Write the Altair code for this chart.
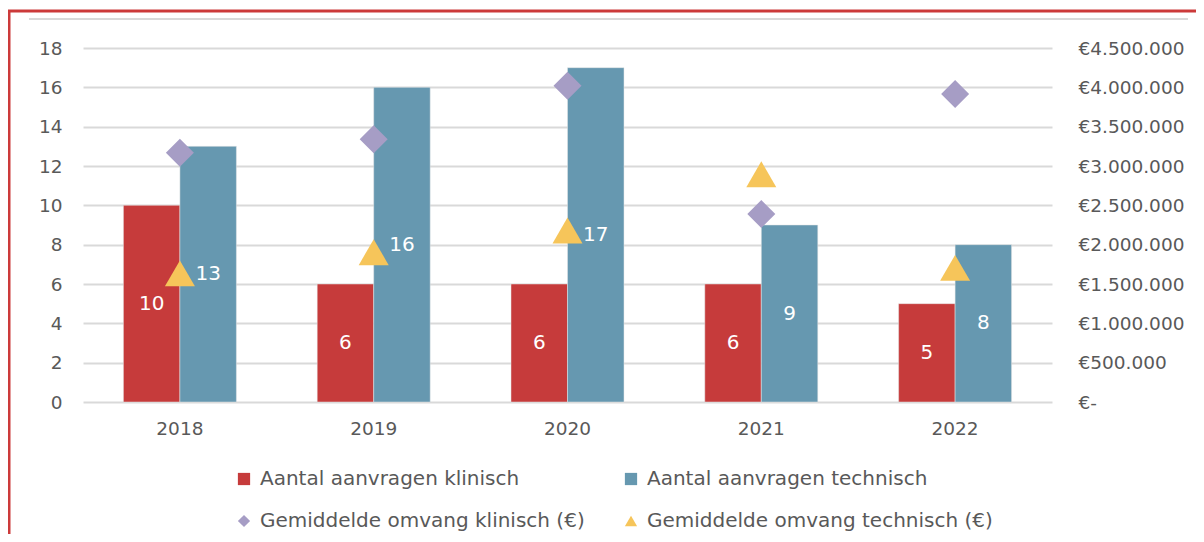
import altair as alt
import pandas as pd

# ---- data ----
years = ["2018", "2019", "2020", "2021", "2022"]
aantal_klinisch = [10, 6, 6, 6, 5]
aantal_technisch = [13, 16, 17, 9, 8]
omvang_klinisch = [3170000, 3340000, 4020000, 2390000, 3915000]
omvang_technisch = [1635000, 1905000, 2180000, 2895000, 1705000]

s_ak = "Aantal aanvragen klinisch"
s_at = "Aantal aanvragen technisch"
s_ok = "Gemiddelde omvang klinisch (€)"
s_ot = "Gemiddelde omvang technisch (€)"
series_order = [s_ak, s_at, s_ok, s_ot]
series_colors = ["#C63B3B", "#6698B0", "#A69DC5", "#F6C55A"]
series_shapes = ["square", "square", "diamond", "triangle-up"]

bars_df = pd.DataFrame(
    [{"jaar": y, "reeks": s_ak, "aantal": v} for y, v in zip(years, aantal_klinisch)]
    + [{"jaar": y, "reeks": s_at, "aantal": v} for y, v in zip(years, aantal_technisch)]
)
points_df = pd.DataFrame(
    [{"jaar": y, "reeks": s_ok, "omvang": v} for y, v in zip(years, omvang_klinisch)]
    + [{"jaar": y, "reeks": s_ot, "omvang": v} for y, v in zip(years, omvang_technisch)]
)

FONT = "DejaVu Sans"
TXT = "#595959"
GRID = "#D9D9D9"

x_enc = alt.X(
    "jaar:N",
    sort=years,
    scale=alt.Scale(paddingInner=0.417, paddingOuter=0.2085),
    axis=alt.Axis(
        title=None, labelAngle=0, ticks=False, domain=False, grid=False,
        labelFont=FONT, labelFontSize=18.5, labelColor=TXT, labelPadding=17,
    ),
)
xoff_enc = alt.XOffset("reeks:N", sort=[s_ak, s_at], scale=alt.Scale(paddingInner=0, paddingOuter=0))

legend_def = alt.Legend(
    title=None, orient="none", legendX=151, legendY=421, columns=2,
    direction="horizontal",
    columnPadding=36, rowPadding=22, padding=0,
    labelFont=FONT, labelFontSize=20, labelColor=TXT, labelOffset=6,
    symbolSize=150, symbolStrokeWidth=0, labelLimit=0,
)
color_enc = alt.Color(
    "reeks:N",
    scale=alt.Scale(domain=series_order, range=series_colors),
    legend=legend_def,
)
shape_enc = alt.Shape(
    "reeks:N",
    scale=alt.Scale(domain=series_order, range=series_shapes),
    legend=legend_def,
)

left_axis = alt.Axis(
    title=None, values=list(range(0, 19, 2)), ticks=False, domain=False,
    grid=True, gridColor=GRID, gridWidth=2,
    labelFont=FONT, labelFontSize=18.5, labelColor=TXT, labelPadding=21,
)
left_scale = alt.Scale(domain=[0, 18], nice=False)

bars = alt.Chart(bars_df).mark_bar(stroke="#E6E6E6", strokeWidth=0.5).encode(
    x=x_enc, xOffset=xoff_enc,
    y=alt.Y("aantal:Q", scale=left_scale, axis=left_axis),
    color=color_enc,
)

labels = alt.Chart(bars_df).transform_calculate(
    midden="datum.aantal / 2"
).mark_text(font=FONT, fontSize=20, color="white", baseline="middle").encode(
    x=alt.X("jaar:N", sort=years),
    xOffset=alt.XOffset("reeks:N", sort=[s_ak, s_at]),
    y=alt.Y("midden:Q", scale=left_scale, axis=left_axis),
    text=alt.Text("aantal:Q"),
)

deco = pd.DataFrame({"k": [0]})
red_border = alt.Chart(deco).mark_rect(
    fillOpacity=0, stroke="#CC3A3A", strokeWidth=3
).encode(
    x=alt.value(-74), x2=alt.value(1300), y=alt.value(-37), y2=alt.value(700)
)
top_line = alt.Chart(deco).mark_rule(color=GRID, strokeWidth=2).encode(
    x=alt.value(-54), x2=alt.value(1105), y=alt.value(-29)
)

left_layer = alt.layer(red_border, top_line, bars, labels)

points = alt.Chart(points_df).mark_point(filled=True, opacity=1, strokeWidth=0).encode(
    x=alt.X("jaar:N", sort=years),
    y=alt.Y(
        "omvang:Q",
        scale=alt.Scale(domain=[0, 4500000], nice=False),
        axis=alt.Axis(
            title=None, orient="right", values=list(range(0, 4500001, 500000)),
            ticks=False, domain=False, grid=False,
            labelFont=FONT, labelFontSize=18.5, labelColor=TXT, labelPadding=26,
            labelExpr="datum.value == 0 ? '€-' : '€' + replace(replace(format(datum.value, ',.0f'), ',', '.'), ',', '.')",
        ),
    ),
    color=color_enc,
    shape=shape_enc,
    size=alt.condition("datum.reeks == '" + s_ok + "'", alt.value(784), alt.value(900)),
)

chart = alt.layer(left_layer, points).resolve_scale(y="independent").properties(
    width=969,
    height=354,
    padding={"left": 75, "top": 40, "right": 144, "bottom": 132},
    autosize=alt.AutoSizeParams(type="none"),
    background="white",
).configure_view(stroke=None)

chart.save("out.html", embed_options={"renderer": "svg", "actions": False})
